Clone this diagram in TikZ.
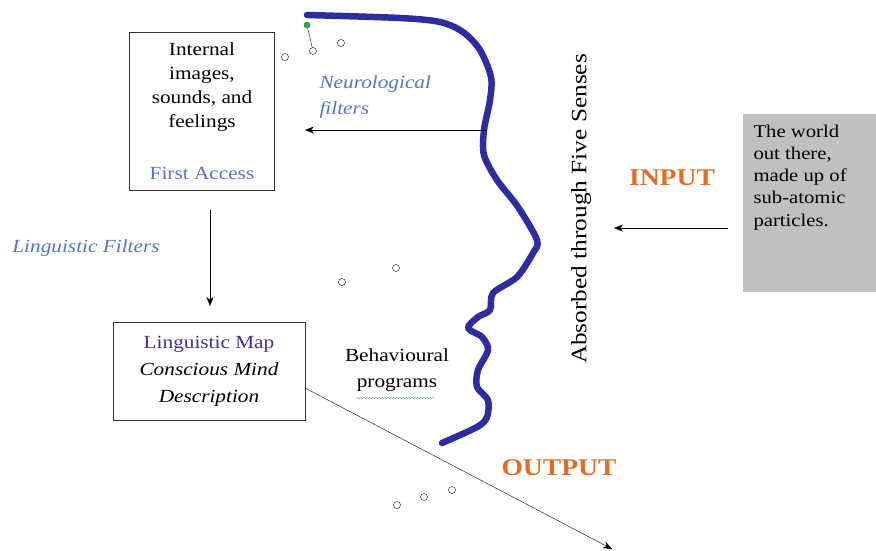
\documentclass[tikz,border=0pt]{standalone}
\usepackage{fontspec}
\setmainfont{Liberation Serif}[FakeStretch=1.15]
\usetikzlibrary{decorations.pathmorphing,arrows.meta}
\definecolor{curveblue}{RGB}{45,45,160}
\definecolor{filterblue}{RGB}{85,115,200}
\definecolor{mapblue}{RGB}{60,50,150}
\definecolor{ioorange}{RGB}{225,110,40}
\definecolor{worldgrey}{RGB}{192,192,192}
\definecolor{handlegreen}{RGB}{40,170,60}
\definecolor{wavegreen}{RGB}{90,170,90}

\begin{document}
\begin{tikzpicture}[x=1pt,y=-1pt]

%
% Styles
%
\tikzstyle{box}    = [draw=black!80,thick,align=center,font=\fontsize{18.5}{24}\selectfont]
\tikzstyle{label}  = [align=left,font=\fontsize{18.5}{26}\selectfont]
\tikzstyle{filter} = [label,text=filterblue,font=\fontsize{18.5}{26}\selectfont\itshape]
\tikzstyle{io}     = [text=ioorange,font=\fontsize{24}{28}\selectfont\bfseries]
\tikzstyle{dot}    = [circle,draw=black,fill=white,thin,inner sep=0pt,minimum size=7pt]
\tikzstyle{edge}   = [-{Stealth[length=9pt,width=7pt]},thin]
\tikzstyle{curve}  = [curveblue,line width=6.5pt,line cap=round,line join=round]

\useasboundingbox (0,0) rectangle (876,550);

\node[box,minimum width=145pt,minimum height=158pt] (access) at (202,111)
  {Internal\\images,\\sounds, and\\feelings\\[28pt]\textcolor{filterblue}{First Access}};
\node[box,minimum width=192pt,minimum height=98pt,font=\fontsize{18.5}{27}\selectfont] (map) at (209,371)
  {\textcolor{mapblue}{Linguistic Map}\\\textit{Conscious Mind}\\\textit{Description}};
\node[fill=worldgrey,minimum width=133pt,minimum height=178pt,anchor=north west] (world) at (743,114) {};
\node[label,anchor=north west,font=\fontsize{18}{22.3}\selectfont] (worldtext) at (750,121)
  {The world\\out there,\\made up of\\sub-atomic\\particles.};

\node[filter,anchor=west] (neuro) at (316,97) {Neurological\\filters};
\node[filter] (lingfilt) at (86,248) {Linguistic Filters};
\node[label,align=center] (behav) at (397,370) {Behavioural\\programs};
\node[io] (input) at (672,178) {INPUT};
\node[io] (output) at (559,468) {OUTPUT};
\node[rotate=90,font=\fontsize{22}{26}\selectfont] (senses) at (581,209) {Absorbed through Five Senses};

% the head
\draw[curve] plot[smooth,tension=0.5] coordinates {
  (307,15) (400,18) (440,22) (463,32) (480,50) (491,77) (490,100) (484,130)
  (484,155) (497,180) (518,207) (537,240) (533,253) (517,277) (493,293)
  (490,310) (478,317) (468,328) (482,337) (488,350) (478,370) (477,387)
  (488,400) (487,417) (477,427) (442,443)};

\draw[wavegreen,decorate,decoration={snake,amplitude=0.8pt,segment length=3pt}] (357,398) -- (435,398);

\node[dot] (d1) at (285,57) {};
\node[dot] (d2) at (313,51) {};
\node[dot] (d3) at (341,43) {};
\node[dot] (d4) at (342,282) {};
\node[dot] (d5) at (396,268) {};
\node[dot] (d6) at (397,505) {};
\node[dot] (d7) at (424,497) {};
\node[dot] (d8) at (452,490) {};
\node[circle,fill=handlegreen,draw=handlegreen!60!black,inner sep=0pt,minimum size=6pt] (handle) at (307,25) {};
\draw[thin] (handle) -- (d2);

\coordinate (neurotail) at (487,130);
\coordinate (neurohead) at (305,130);
\coordinate (downtail)  at (210,210);
\coordinate (downhead)  at (210,306);
\coordinate (intail)    at (728,228);
\coordinate (inhead)    at (614,228);
\coordinate (outtail)   at (305,388);
\coordinate (outhead)   at (612,549);

\draw[edge] (neurotail) -- (neurohead);
\draw[edge] (downtail) -- (downhead);
\draw[edge] (intail) -- (inhead);
\draw[edge] (outtail) -- (outhead);

\end{tikzpicture}
\end{document}
